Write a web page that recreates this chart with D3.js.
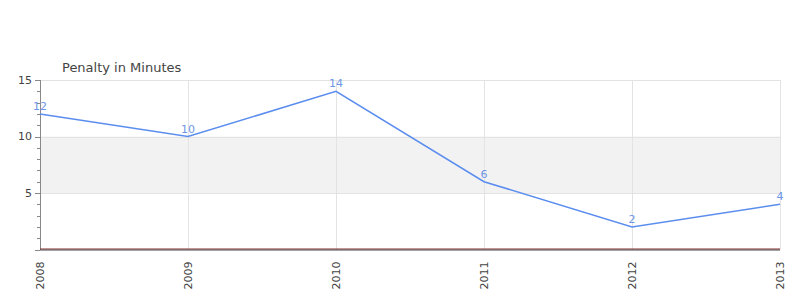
<!DOCTYPE html>
<html>
<head>
<meta charset="utf-8">
<script src="https://cdn.jsdelivr.net/npm/d3@7"></script>
<style>
  body { margin: 0; background: #fff; }
  svg { display: block; font-family: "DejaVu Sans", sans-serif; }
</style>
</head>
<body>
<div id="chart"></div>
<script>
const years = ["2008", "2009", "2010", "2011", "2012", "2013"];
const penalties = [12, 10, 14, 6, 2, 4];
const yTicks = [5, 10, 15];
const bandRange = [5, 10];
const title = "Penalty in Minutes";

const width = 800, height = 300;
const margin = { top: 80, right: 20, bottom: 50.5, left: 40 };
const innerW = width - margin.left - margin.right;
const innerH = height - margin.top - margin.bottom;

const svg = d3.select("#chart").append("svg")
  .attr("width", width)
  .attr("height", height);

const g = svg.append("g")
  .attr("transform", `translate(${margin.left},${margin.top})`);

const x = d3.scalePoint().domain(years).range([0, innerW]);
const y = d3.scaleLinear().domain([0, 15]).range([innerH, 0]);

// band between 5 and 10
g.append("rect")
  .attr("x", 0)
  .attr("width", innerW)
  .attr("y", y(bandRange[1]))
  .attr("height", y(bandRange[0]) - y(bandRange[1]))
  .attr("fill", "#f2f2f2");

// horizontal grid
g.selectAll(".hgrid")
  .data(yTicks)
  .enter().append("line")
  .attr("x1", 0).attr("x2", innerW)
  .attr("y1", d => Math.round(y(d)) + 0.5)
  .attr("y2", d => Math.round(y(d)) + 0.5)
  .attr("stroke", "#e3e3e3");

// vertical grid
g.selectAll(".vgrid")
  .data(years)
  .enter().append("line")
  .attr("x1", d => Math.round(x(d)) + 0.5)
  .attr("x2", d => Math.round(x(d)) + 0.5)
  .attr("y1", 0).attr("y2", innerH)
  .attr("stroke", "#e3e3e3");

// y axis: minor ticks every unit, major at 5s
const yAxis = g.append("g");
yAxis.append("line")
  .attr("x1", 0.5).attr("x2", 0.5)
  .attr("y1", 0).attr("y2", innerH)
  .attr("stroke", "#888");
yAxis.selectAll(".minor")
  .data(d3.range(0, 16))
  .enter().append("line")
  .attr("x1", d => yTicks.includes(d) || d === 0 ? -5 : -3)
  .attr("x2", 0)
  .attr("y1", d => Math.round(y(d)) + 0.5)
  .attr("y2", d => Math.round(y(d)) + 0.5)
  .attr("stroke", "#888");
yAxis.selectAll(".lbl")
  .data(yTicks)
  .enter().append("text")
  .attr("x", -8)
  .attr("y", d => y(d))
  .attr("dy", "0.35em")
  .attr("text-anchor", "end")
  .attr("font-size", 11)
  .attr("fill", "#444")
  .text(d => d);

// x axis: red zero line over dark axis line
g.append("line")
  .attr("x1", 0).attr("x2", innerW)
  .attr("y1", y(0) - 0.5).attr("y2", y(0) - 0.5)
  .attr("stroke", "#8a2a2a");
g.append("line")
  .attr("x1", 0).attr("x2", innerW)
  .attr("y1", y(0) + 0.5).attr("y2", y(0) + 0.5)
  .attr("stroke", "#444");

// x labels rotated
g.selectAll(".xl")
  .data(years)
  .enter().append("text")
  .attr("transform", d => `translate(${x(d) + 4},${innerH + 12}) rotate(-90)`)
  .attr("text-anchor", "end")
  .attr("font-size", 11)
  .attr("fill", "#444")
  .text(d => d);

// line
const line = d3.line()
  .x((d, i) => x(years[i]))
  .y(d => y(d));
g.append("path")
  .datum(penalties)
  .attr("d", line)
  .attr("fill", "none")
  .attr("stroke", "#5b8def")
  .attr("stroke-width", 1.5);

// value labels
g.selectAll(".vl")
  .data(penalties)
  .enter().append("text")
  .attr("x", (d, i) => x(years[i]))
  .attr("y", d => y(d) - 4)
  .attr("text-anchor", "middle")
  .attr("font-size", 11)
  .attr("fill", "#6e96e6")
  .text(d => d);

// title
svg.append("text")
  .attr("x", 62)
  .attr("y", 72)
  .attr("font-size", 13)
  .attr("fill", "#444")
  .text(title);
</script>
</body>
</html>
